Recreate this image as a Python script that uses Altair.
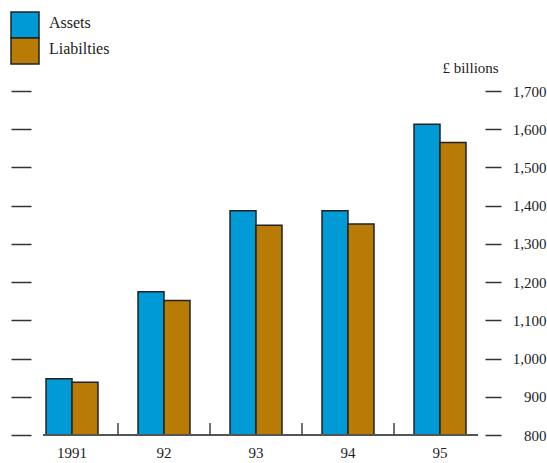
import altair as alt
import pandas as pd

years = ["1991", "92", "93", "94", "95"]
series = ["Assets", "Liabilties"]
assets = [947, 1175, 1387, 1387, 1613]
liabilities = [938, 1152, 1349, 1352, 1565]
y_ticks = [800, 900, 1000, 1100, 1200, 1300, 1400, 1500, 1600, 1700]
separator_years = ["92", "93", "94", "95"]

rows = []
for i, yr in enumerate(years):
    rows.append({"year": yr, "series": "Assets", "value": assets[i]})
    rows.append({"year": yr, "series": "Liabilties", "value": liabilities[i]})
df = pd.DataFrame(rows)
sep_df = pd.DataFrame({"year": separator_years, "base": [800] * len(separator_years)})
legend_df = pd.DataFrame({"series": series})

FONT = "Liberation Serif"
BLUE = "#009AD7"
BROWN = "#B87C06"
INK = "#222222"

x_scale = alt.Scale(domain=years, paddingInner=0, paddingOuter=0)
y_scale = alt.Scale(domain=[800, 1700], nice=False, zero=False)
color_scale = alt.Scale(domain=series, range=[BLUE, BROWN])
legend_y_scale = alt.Scale(domain=series, range=[-79, -27], paddingInner=0, paddingOuter=0)

bars = alt.Chart(df).mark_bar(stroke=INK, strokeWidth=1.5).encode(
    x=alt.X("year:N", scale=x_scale, sort=years,
            axis=alt.Axis(title=None, domain=False, ticks=False, labelAngle=0,
                          labelPadding=10, labelFont=FONT, labelFontSize=15,
                          labelColor=INK)),
    xOffset=alt.XOffset("series:N", sort=series,
                        scale=alt.Scale(domain=series, paddingInner=0, paddingOuter=0.77)),
    y=alt.Y("value:Q", scale=y_scale,
            axis=alt.Axis(orient="left", values=y_ticks, title=None, labels=False,
                          domain=False, grid=False, tickSize=20, offset=-5,
                          tickColor="#333", tickWidth=1.5)),
    y2=alt.datum(800),
    color=alt.Color("series:N", scale=color_scale, legend=None),
)

baseline = alt.Chart(df).mark_rule(color="#555", strokeWidth=1.5).encode(
    y=alt.YDatum(800, scale=y_scale, axis=None),
    x=alt.value(17),
    x2=alt.value(452),
)

separators = alt.Chart(sep_df).mark_rule(color="#444", strokeWidth=1.5).encode(
    x=alt.X("year:N", scale=x_scale, sort=years, bandPosition=0),
    y=alt.Y("base:Q", scale=y_scale,
            axis=alt.Axis(orient="right", values=y_ticks, format=",d", domain=False,
                          grid=False, tickSize=16, offset=-1, tickColor="#333",
                          tickWidth=1.5, labelAlign="right", labelPadding=45,
                          labelFont=FONT, labelFontSize=15, labelColor=INK,
                          title="£ billions", titleAngle=0, titleX=-15, titleY=-24,
                          titleAlign="center", titleBaseline="middle",
                          titleFont=FONT, titleFontSize=15, titleFontWeight="normal",
                          titleColor=INK)),
    y2=alt.value(332),
)

legend_boxes = alt.Chart(legend_df).mark_rect(stroke=INK, strokeWidth=1.5).encode(
    y=alt.Y("series:N", sort=series, scale=legend_y_scale, axis=None),
    x=alt.value(-15),
    x2=alt.value(13),
    color=alt.Color("series:N", scale=color_scale, legend=None),
)

legend_labels = alt.Chart(legend_df).mark_text(
    align="left", baseline="middle", font=FONT, fontSize=16, color=INK, dy=-2
).encode(
    y=alt.Y("series:N", sort=series, scale=legend_y_scale, axis=None),
    x=alt.value(23),
    text="series:N",
)

chart = alt.layer(bars, baseline, separators, legend_boxes, legend_labels).resolve_scale(
    y="independent"
).resolve_axis(y="independent").properties(
    width=460,
    height=344,
    autosize=alt.AutoSizeParams(type="none"),
    padding={"left": 26, "top": 91, "right": 61, "bottom": 28},
    background="white",
).configure_view(stroke=None)

chart.save("out.html", embed_options={"renderer": "svg", "actions": False})
